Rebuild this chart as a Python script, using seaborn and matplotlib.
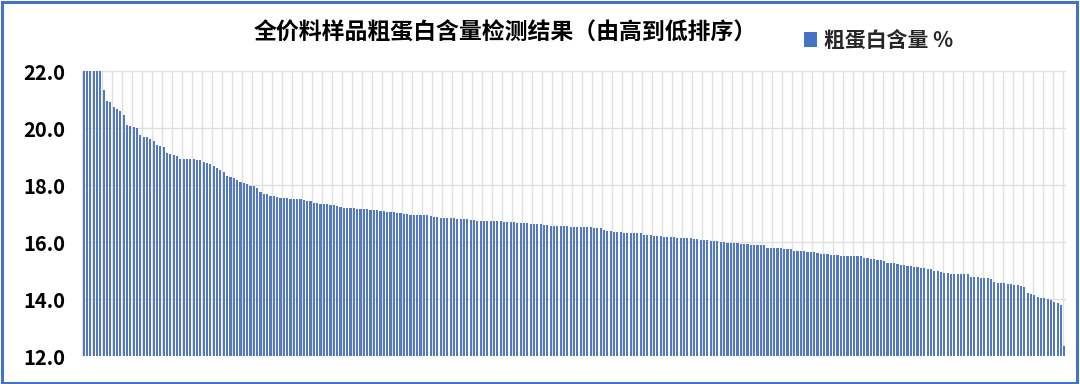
import numpy as np
import pandas as pd
import matplotlib
matplotlib.use("Agg")
import matplotlib.pyplot as plt
from matplotlib.patches import Patch, Rectangle
import seaborn as sns

title = "全价料样品粗蛋白含量检测结果（由高到低排序）"
series_name = "粗蛋白含量 %"
y_ticks = [12.0, 14.0, 16.0, 18.0, 20.0, 22.0]

protein = [
    24.0, 23.5, 23.0, 22.6, 22.3, 22.1,
    21.35,
    20.95, 20.9,
    20.72, 20.65, 20.6,
    20.45,
    20.12, 20.08, 20.05, 20.0,
    19.75, 19.7, 19.68, 19.62, 19.55,
    19.4, 19.38, 19.35,
    19.12, 19.08, 19.05, 19.02,
    18.92, 18.92, 18.9, 18.9, 18.9, 18.88, 18.86,
    18.82, 18.78, 18.75, 18.68,
    18.6, 18.52, 18.45,
    18.32, 18.28, 18.25,
    18.18, 18.12, 18.08, 18.05,
    17.98, 17.95, 17.9,
    17.75, 17.7, 17.68,
    17.62, 17.6, 17.58,
    17.55, 17.55, 17.53, 17.52, 17.52, 17.5, 17.5,
    17.47, 17.45, 17.44,
    17.38, 17.36, 17.35, 17.33, 17.32, 17.3, 17.3, 17.28,
    17.22, 17.2, 17.2, 17.18, 17.18, 17.17, 17.16, 17.15, 17.15, 17.14, 17.13, 17.12, 17.1,
    17.08, 17.06, 17.05, 17.04, 17.03, 17.02, 17.0, 16.98,
    16.96, 16.95, 16.95, 16.94, 16.93, 16.93, 16.92,
    16.87, 16.86, 16.85, 16.85, 16.84, 16.83, 16.83, 16.82, 16.81, 16.8, 16.8,
    16.76, 16.76, 16.75, 16.75, 16.74, 16.74, 16.73, 16.73, 16.72, 16.72, 16.71, 16.71, 16.7, 16.7,
    16.66, 16.66, 16.65, 16.65, 16.64, 16.64, 16.63, 16.63,
    16.58, 16.58, 16.57, 16.57, 16.56, 16.56, 16.55, 16.55, 16.54, 16.54, 16.53, 16.53,
    16.52, 16.52, 16.51, 16.5, 16.5, 16.49,
    16.42, 16.4, 16.38,
    16.35, 16.35, 16.34, 16.33, 16.33, 16.32, 16.31, 16.31, 16.3,
    16.25, 16.24, 16.23, 16.22, 16.21, 16.2,
    16.17, 16.17, 16.16, 16.16, 16.15, 16.15, 16.14, 16.14, 16.13,
    16.1, 16.09, 16.08, 16.07, 16.06, 16.05, 16.04, 16.03,
    16.0, 15.99, 15.98, 15.97, 15.96, 15.95, 15.94, 15.93, 15.92, 15.91, 15.9, 15.9, 15.89, 15.88,
    15.8, 15.8, 15.79, 15.79, 15.78, 15.77, 15.77, 15.76,
    15.7, 15.69, 15.68, 15.67, 15.66, 15.66, 15.65,
    15.6, 15.59, 15.58, 15.57, 15.56, 15.55, 15.53, 15.52,
    15.52, 15.52, 15.51, 15.51, 15.5, 15.5,
    15.45, 15.44, 15.42, 15.4, 15.38, 15.37, 15.35,
    15.28, 15.26, 15.25, 15.23,
    15.2, 15.18, 15.17, 15.15, 15.13, 15.12, 15.1, 15.08, 15.07, 15.05,
    14.99, 14.97, 14.95,
    14.9, 14.9, 14.89, 14.89, 14.88, 14.88, 14.87, 14.87,
    14.78, 14.77, 14.76, 14.74, 14.73, 14.72, 14.7,
    14.58, 14.57, 14.56, 14.55, 14.54, 14.53, 14.5, 14.48, 14.45, 14.42,
    14.22, 14.18, 14.14,
    14.07, 14.05, 14.02, 14.0, 13.95, 13.9, 13.85, 13.8,
    12.35,
]
samples = [str(i + 1) for i in range(len(protein))]

sns.set_style("white")
plt.rcParams['font.family'] = ['Noto Sans CJK SC', 'DejaVu Sans']

bar_color = "#4472C4"
grid_color = "#E0E0E0"

df = pd.DataFrame({"样品": samples, "粗蛋白": protein})

fig = plt.figure(figsize=(10.8, 3.84), dpi=100)
ax = fig.add_axes([82 / 1080, 1 - 356 / 384, (1066 - 82) / 1080, (356 - 71) / 384])

sns.barplot(data=df, x="样品", y="粗蛋白", color="#5279C2", saturation=1,
            width=0.64, ax=ax, order=samples, errorbar=None, linewidth=0)

n = len(protein)
ax.set_xlim(-0.5, n - 0.5)
ax.set_ylim(12, 22)
ax.set_yticks(y_ticks)
ax.set_yticklabels([f"{v:.1f}" for v in y_ticks], fontsize=14.5, fontweight="heavy", color="#000000")
ax.set_xticks(np.arange(-0.5, n, 3))
ax.set_xticklabels([])
ax.tick_params(axis="both", length=0)
ax.tick_params(axis="y", pad=12)
ax.set_xlabel("")
ax.set_ylabel("")
ax.grid(True, axis="both", color=grid_color, linewidth=1.0)
ax.set_axisbelow(True)
for s in ax.spines.values():
    s.set_visible(False)

fig.text(505 / 1080, 1 - 33 / 384, title, ha="center", va="center",
         fontsize=16.5, fontweight="heavy", color="#000000")

handle = Patch(facecolor=bar_color, edgecolor="none", label=series_name)
fig.legend(handles=[handle], loc="center left", bbox_to_anchor=(804 / 1080, 1 - 40 / 384),
           frameon=False, prop={"weight": "heavy", "size": 15},
           handlelength=0.6, handleheight=0.75, handletextpad=0.35,
           borderpad=0, borderaxespad=0)

fig.patches.append(Rectangle((0.0015, 0.002), 0.9955, 0.994, transform=fig.transFigure,
                             fill=False, edgecolor="#4472C4", linewidth=2.2))

fig.savefig("out.png", dpi=100)
